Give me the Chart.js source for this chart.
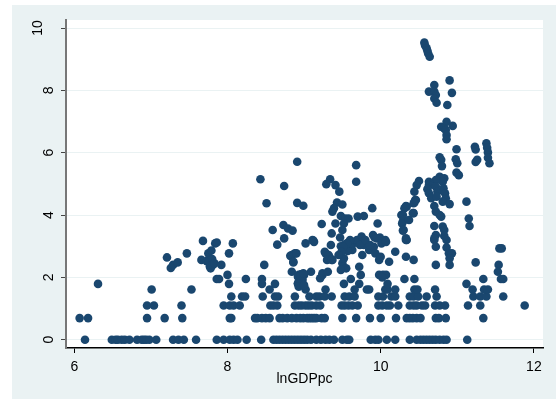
<!DOCTYPE html>
<html>
<head>
<meta charset="utf-8">
<script src="https://cdn.jsdelivr.net/npm/chart.js@4"></script>
<style>
  html, body { margin: 0; padding: 0; background: #fff; }
  #wrap { width: 556px; height: 399px; }
</style>
</head>
<body>
<div id="wrap"><canvas id="myChart" width="556" height="399"></canvas></div>
<script>
// tick labels
const xTicks = [6, 8, 10, 12];
const yTicks = [0, 2, 4, 6, 8, 10];

// y levels that many observations share, with the lnGDPpc values on each
const rowLevels = [0, 0.693, 1.099, 1.386, 1.609, 1.792, 1.946, 2.079];
const rowX0 = [6.14, 6.49, 6.54, 6.57, 6.62, 6.66, 6.72, 6.82, 6.88, 6.91, 6.94, 6.98, 7.07, 7.29, 7.36, 7.43, 7.59, 7.86, 7.95, 8.03, 8.08, 8.13, 8.25, 8.44, 8.60, 8.64, 8.68, 8.72, 8.76, 8.80, 8.84, 8.88, 8.92, 8.96, 9.00, 9.04, 9.09, 9.16, 9.22, 9.28, 9.33, 9.39, 9.50, 9.56, 9.59, 9.87, 9.93, 9.97, 10.08, 10.19, 10.38, 10.47, 10.52, 10.56, 10.60, 10.64, 10.68, 10.72, 10.77, 10.82, 10.86, 11.13];
const rowX1 = [6.07, 6.18, 6.95, 7.18, 7.41, 8.03, 8.05, 8.36, 8.39, 8.45, 8.50, 8.55, 8.68, 8.72, 8.78, 8.84, 8.90, 8.95, 8.99, 9.04, 9.07, 9.10, 9.13, 9.16, 9.23, 9.27, 9.50, 9.68, 9.86, 10.00, 10.20, 10.34, 10.38, 10.42, 10.47, 10.52, 10.72, 10.76, 10.85, 11.34];
const rowX2 = [6.95, 7.04, 7.40, 7.95, 8.03, 8.08, 8.16, 8.56, 8.60, 8.65, 8.88, 8.93, 8.97, 9.02, 9.06, 9.10, 9.16, 9.21, 9.49, 9.53, 9.58, 9.63, 9.70, 9.97, 10.02, 10.08, 10.12, 10.23, 10.38, 10.43, 10.47, 10.54, 10.58, 10.71, 10.77, 10.84, 11.14, 11.30, 11.88];
const rowX3 = [8.05, 8.19, 8.23, 8.46, 8.62, 8.66, 8.88, 9.07, 9.16, 9.20, 9.27, 9.36, 9.53, 9.59, 9.66, 9.97, 10.03, 10.14, 10.19, 10.38, 10.43, 10.49, 10.60, 10.73, 11.21, 11.30, 11.38, 11.60];
const rowX4 = [7.01, 7.53, 8.55, 9.02, 9.28, 9.66, 9.82, 9.85, 10.06, 10.09, 10.19, 10.44, 10.48, 10.71, 11.20, 11.35, 11.40];
const rowX5 = [8.02, 8.45, 8.62, 8.92, 9.52, 9.72, 10.09, 11.12];
const rowX6 = [7.86, 7.89, 8.24, 8.45, 9.61, 10.31, 10.44, 11.34, 11.57, 11.60];
const rowX7 = [8.00, 8.96, 9.00, 9.24, 9.74, 9.98, 10.03, 10.07];
const rowXs = [rowX0, rowX1, rowX2, rowX3, rowX4, rowX5, rowX6, rowX7];

// remaining observations as [lnGDPpc, y]
const otherPoints = [
  [6.31, 1.79], [7.21, 2.64], [7.26, 2.30], [7.29, 2.40], [7.35, 2.48], [7.47, 2.77], [7.66, 2.56], [7.68, 3.17],
  [7.73, 2.52], [7.75, 2.77], [7.76, 2.50], [7.77, 2.35], [7.78, 2.29], [7.79, 2.86], [7.80, 2.59], [7.81, 2.40],
  [7.83, 2.45], [7.84, 3.09], [7.86, 3.12], [7.92, 2.40], [8.02, 2.77], [8.07, 3.09],
  [8.43, 5.15], [8.51, 4.38], [8.59, 3.52], [8.65, 3.05], [8.48, 2.40], [8.73, 3.68], [8.74, 4.93], [8.91, 5.71],
  [8.91, 4.39], [8.99, 4.30], [8.79, 3.57], [8.85, 3.50], [8.74, 3.25], [9.02, 3.09], [9.12, 3.18], [9.23, 3.71],
  [9.36, 3.41], [9.41, 3.73], [9.48, 3.97], [9.54, 3.89], [9.58, 3.89], [9.52, 3.73], [9.50, 3.52], [9.70, 3.95],
  [9.78, 3.97], [9.89, 4.22], [9.96, 3.73], [9.34, 5.15], [9.29, 4.99], [9.41, 4.96], [9.46, 4.75], [9.68, 5.60],
  [9.68, 5.07], [9.43, 4.40], [9.50, 4.34], [9.39, 4.22], [9.37, 4.11], [9.47, 3.28], [9.90, 3.36], [9.92, 3.28],
  [9.99, 3.28], [9.77, 3.22], [9.63, 3.14], [9.11, 3.20],
  [8.82, 2.69], [8.88, 2.77], [8.86, 2.48], [8.84, 2.18], [8.93, 2.08], [8.96, 2.10], [9.09, 2.18], [9.13, 3.14],
  [9.28, 2.77], [9.33, 2.66], [9.37, 2.56], [9.35, 3.04], [9.24, 2.13], [9.31, 2.18], [9.21, 1.97], [9.50, 2.88],
  [9.50, 2.45], [9.55, 2.29], [9.48, 2.24], [9.52, 2.61], [9.48, 3.00], [9.53, 3.05], [9.58, 3.12], [9.72, 2.34],
  [9.76, 2.72], [9.78, 3.04], [9.63, 2.88], [9.65, 3.10], [9.60, 3.00], [9.57, 2.85], [9.85, 2.88], [9.91, 2.98],
  [9.93, 2.77], [9.98, 2.56], [10.00, 2.66], [10.02, 2.00], [8.92, 2.02], [8.95, 2.03], [8.98, 1.92], [8.92, 1.81],
  [8.93, 1.70], [8.99, 2.13], [9.00, 1.75],
  [9.69, 3.20], [9.75, 3.31], [9.73, 3.04], [9.80, 3.20], [9.86, 3.04], [9.95, 3.25], [10.01, 3.09], [10.06, 3.20],
  [9.27, 2.82], [9.32, 2.72], [9.30, 2.56], [9.36, 2.56], [9.60, 3.20], [9.56, 3.09], [9.51, 2.98], [9.49, 2.82],
  [9.45, 2.72], [8.84, 2.72], [8.90, 2.77], [8.86, 2.50],
  [10.19, 2.82], [10.33, 2.66], [10.43, 2.56], [10.27, 4.00], [10.29, 3.79], [10.34, 4.27], [10.43, 4.06], [10.46, 4.48],
  [10.43, 4.38], [10.29, 3.50], [10.34, 3.20], [11.12, 4.43], [11.15, 3.89], [11.16, 3.65], [11.24, 2.48], [11.55, 2.93],
  [11.58, 2.93], [11.54, 2.40], [11.53, 2.18], [10.07, 3.14], [10.11, 2.50], [10.33, 3.20], [10.70, 3.20], [10.86, 3.20],
  [10.72, 2.98], [10.86, 2.96], [10.89, 2.77], [10.93, 2.77], [10.90, 2.61], [10.90, 2.40], [10.72, 2.40],
  [10.57, 9.53], [10.58, 9.44], [10.60, 9.35], [10.61, 9.27], [10.62, 9.18], [10.64, 9.08],
  [10.70, 8.17], [10.90, 8.32], [10.63, 7.96], [10.70, 7.96], [10.72, 7.85], [10.93, 7.92], [10.70, 7.74], [10.73, 7.60],
  [10.87, 7.53], [10.79, 6.83], [10.86, 6.99], [10.83, 6.78], [10.94, 6.86], [10.85, 6.73], [10.86, 6.57], [10.86, 6.43],
  [10.99, 6.11], [11.23, 6.19], [11.24, 6.10], [11.24, 5.70], [11.26, 5.77], [11.38, 6.30], [11.39, 6.16], [11.40, 6.01],
  [11.40, 5.84], [11.42, 5.66], [10.77, 5.85], [10.79, 5.77], [10.98, 5.79], [11.00, 5.66], [10.80, 5.57], [10.99, 5.36],
  [11.02, 5.28], [10.77, 5.23], [10.83, 5.18], [10.81, 5.07], [10.72, 5.12], [10.50, 5.09], [10.47, 4.96], [10.44, 4.75],
  [10.45, 4.48], [10.44, 4.40], [10.63, 5.07], [10.63, 4.96], [10.61, 4.83], [10.63, 4.70], [10.66, 4.54], [10.72, 4.91],
  [10.74, 4.75], [10.73, 4.59], [10.82, 4.86], [10.84, 4.70], [10.85, 4.54], [10.81, 4.43], [10.90, 4.35],
  [10.33, 4.29], [10.31, 4.22], [10.29, 4.00], [10.30, 3.84], [10.28, 3.73], [10.37, 3.84], [10.42, 4.06], [10.30, 3.52],
  [10.33, 3.25], [10.70, 4.29], [10.72, 4.11], [10.77, 4.00], [10.79, 3.95], [10.70, 3.65], [10.81, 3.63], [10.83, 3.52],
  [10.72, 3.36], [10.83, 3.33], [10.70, 3.25]
];

const points = [];
rowXs.forEach((xs, i) => xs.forEach(x => points.push({ x: x, y: rowLevels[i] })));
otherPoints.forEach(p => points.push({ x: p[0], y: p[1] }));

const panel = {
  id: 'panel',
  beforeDraw(chart) {
    const ctx = chart.ctx, a = chart.chartArea;
    ctx.save();
    ctx.fillStyle = '#eaf2f3';
    ctx.fillRect(12, 5, 544, 394);
    ctx.fillStyle = '#ffffff';
    ctx.fillRect(a.left, a.top, a.right - a.left, a.bottom - a.top);
    ctx.restore();
  },
  afterDraw(chart) {
    const ctx = chart.ctx, ys = chart.scales.y, a = chart.chartArea;
    ctx.save();
    ctx.fillStyle = '#000';
    ctx.font = '14px "Liberation Sans", Arial, sans-serif';
    yTicks.forEach(v => {
      const t = String(v);
      const w = ctx.measureText(t).width;
      ctx.save();
      ctx.translate(60.5 - 1.41 * w, ys.getPixelForValue(v));
      ctx.rotate(-Math.PI / 2);
      ctx.textAlign = 'center';
      ctx.textBaseline = 'middle';
      ctx.fillText(t, 0, 0);
      ctx.restore();
    });
    ctx.textAlign = 'center';
    ctx.textBaseline = 'middle';
    ctx.fillText('lnGDPpc', (a.left + a.right) / 2, 379);
    ctx.restore();
  }
};

const ctx = document.getElementById('myChart').getContext('2d');
const myChart = new Chart(ctx, {
  type: 'scatter',
  data: {
    datasets: [{
      data: points,
      backgroundColor: '#1a476f',
      borderWidth: 0,
      pointRadius: 4.3,
      pointHoverRadius: 4.3
    }]
  },
  options: {
    responsive: false,
    animation: false,
    events: [],
    layout: { padding: { left: 0, top: 20, right: 13, bottom: 0 } },
    plugins: { legend: { display: false }, tooltip: { enabled: false } },
    scales: {
      x: {
        type: 'linear',
        min: 5.892,
        max: 12.119,
        afterBuildTicks: s => { s.ticks = xTicks.map(v => ({ value: v })); },
        afterFit: s => { s.height = 51; },
        grid: { drawOnChartArea: false, drawTicks: true, tickLength: 5, tickColor: '#000', tickWidth: 1 },
        border: { color: '#000', width: 1.5 },
        ticks: {
          color: '#000',
          padding: 6,
          maxRotation: 0,
          font: { family: '"Liberation Sans", Arial, sans-serif', size: 14 }
        }
      },
      y: {
        type: 'linear',
        min: -0.266,
        max: 10.257,
        afterBuildTicks: s => { s.ticks = yTicks.map(v => ({ value: v })); },
        afterFit: s => { s.width = 66; },
        grid: { color: '#eaf2f3', lineWidth: 1, drawTicks: true, tickLength: 5, tickColor: '#444', tickWidth: 1 },
        border: { color: '#777', width: 2 },
        ticks: { display: false }
      }
    }
  },
  plugins: [panel]
});
</script>
</body>
</html>
